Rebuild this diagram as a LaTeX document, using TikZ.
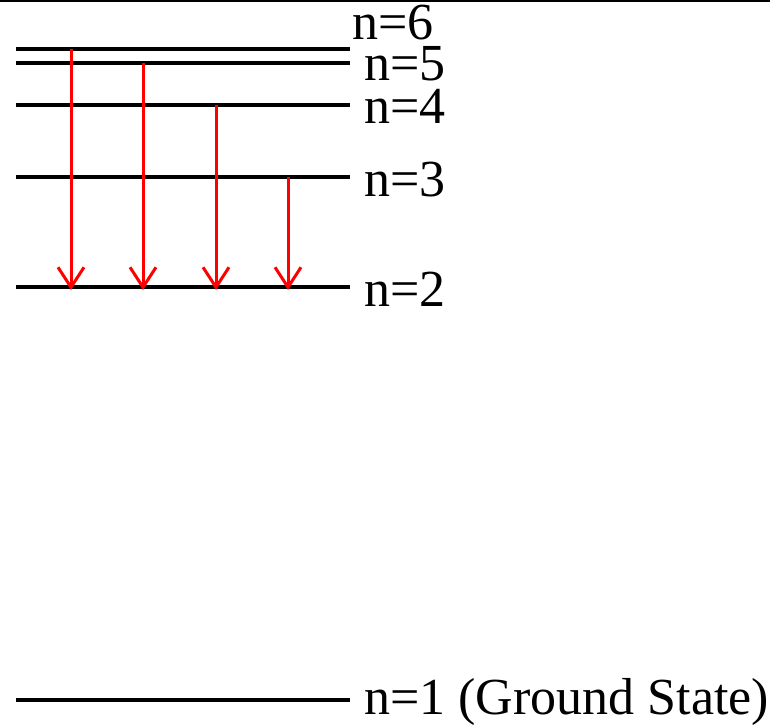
\documentclass[tikz,border=0pt]{standalone}
\usepackage{fontspec}
\setmainfont{Liberation Serif}
\usetikzlibrary{arrows.meta}

\begin{document}
\begin{tikzpicture}[
  x=1pt, y=-1pt,
  level/.style={line width=3.5pt, draw=black},
  emit/.style={-{Straight Barb[length=20pt, width=26pt, line width=3pt]}, line width=3pt, draw=red},
  lbl/.style={font=\fontsize{52}{54}\selectfont, inner sep=0pt, anchor=west},
]
\useasboundingbox (0,0) rectangle (770,726);

% frame edge at the top
\draw[line width=2pt] (0,1) -- (770,1);

% energy levels
\foreach \n/\y in {6/49, 5/63, 4/105, 3/177, 2/287, 1/700} {
  \draw[level] (16,\y) coordinate (l\n) -- (350,\y) coordinate (r\n);
}

% level labels
\node[lbl] (t6) at (352,23) {n=6};
\node[lbl] (t5) at (364,64) {n=5};
\node[lbl] (t4) at (364,106) {n=4};
\node[lbl] (t3) at (364,180) {n=3};
\node[lbl] (t2) at (364,289) {n=2};
\node[lbl] (t1) at (364,702) {n=1 (Ground State)};

% Balmer transitions down to n=2
\foreach \n/\dx in {6/55, 5/127, 4/200, 3/272} {
  \draw[emit] ([xshift=\dx]l\n) -- ([xshift=\dx, yshift=-3]l2);
}

\end{tikzpicture}
\end{document}
